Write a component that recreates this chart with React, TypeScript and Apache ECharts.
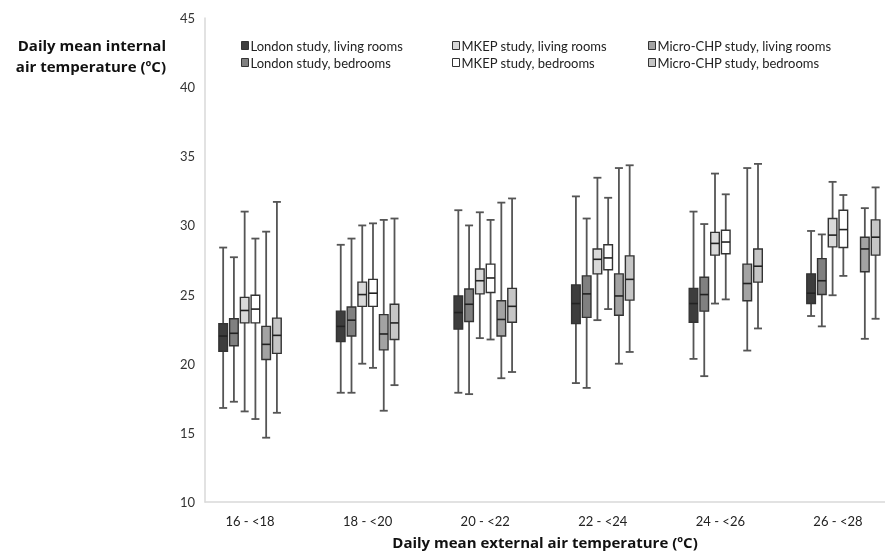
import React, { useEffect, useRef } from "react";
import * as echarts from "echarts";

const categories = ["16 - <18", "18 - <20", "20 - <22", "22 - <24", "24 - <26", "26 - <28"];
const seriesNames = [
  "London study, living rooms",
  "London study, bedrooms",
  "MKEP study, living rooms",
  "MKEP study, bedrooms",
  "Micro-CHP study, living rooms",
  "Micro-CHP study, bedrooms",
];
// [min, Q1, median, Q3, max] per category
const londonLiving = [
  [16.8, 20.9, 22.0, 22.9, 28.4],
  [17.9, 21.6, 22.7, 23.8, 28.6],
  [17.9, 22.5, 23.7, 24.9, 31.1],
  [18.6, 22.9, 24.35, 25.7, 32.1],
  [20.35, 23.0, 24.35, 25.45, 31.0],
  [23.45, 24.35, 25.1, 26.5, 29.6],
];
const londonBed = [
  [17.25, 21.3, 22.2, 23.25, 27.7],
  [17.9, 22.0, 23.15, 24.1, 29.05],
  [17.8, 23.05, 24.3, 25.4, 30.0],
  [18.25, 23.35, 25.05, 26.35, 30.5],
  [19.1, 23.8, 25.0, 26.25, 30.1],
  [22.7, 25.0, 26.0, 27.6, 29.35],
];
const mkepLiving = [
  [16.55, 22.95, 23.85, 24.8, 31.0],
  [20.0, 24.15, 25.0, 25.9, 30.0],
  [21.85, 25.05, 26.0, 26.85, 30.95],
  [23.15, 26.5, 27.55, 28.3, 33.45],
  [24.35, 27.85, 28.7, 29.5, 33.75],
  [24.95, 28.45, 29.3, 30.5, 33.15],
];
const mkepBed = [
  [16.0, 22.95, 23.95, 24.95, 29.05],
  [19.7, 24.15, 25.1, 26.1, 30.15],
  [21.75, 25.15, 26.2, 27.2, 30.4],
  [23.95, 26.8, 27.65, 28.6, 32.0],
  [24.65, 27.95, 28.8, 29.65, 32.25],
  [26.35, 28.4, 29.7, 31.1, 32.2],
];
const microLiving = [
  [14.65, 20.3, 21.4, 22.7, 29.55],
  [16.6, 21.0, 22.15, 23.55, 30.4],
  [18.95, 22.0, 23.2, 24.55, 31.65],
  [20.0, 23.5, 24.9, 26.5, 34.15],
  [20.95, 24.55, 25.8, 27.2, 34.15],
  [21.8, 26.65, 28.3, 29.15, 31.25],
];
const microBed = [
  [16.45, 20.75, 22.05, 23.3, 31.7],
  [18.45, 21.75, 22.95, 24.3, 30.5],
  [19.4, 23.0, 24.15, 25.45, 31.95],
  [20.85, 24.6, 26.1, 27.8, 34.35],
  [22.55, 25.9, 27.05, 28.3, 34.45],
  [23.25, 27.85, 29.15, 30.4, 32.75],
];
const yTicks = { min: 10, max: 45, interval: 5 };

const allSeries = [londonLiving, londonBed, mkepLiving, mkepBed, microLiving, microBed];
const fills = ["#3d3d3d", "#808080", "#d9d9d9", "#ffffff", "#a3a3a3", "#c6c6c6"];

const SPACING = 10.75;
const BOX_W = 8.6;
const CAP_W = 8;

export default function App() {
  const ref = useRef<HTMLDivElement>(null);
  useEffect(() => {
    if (!ref.current) return;
    const chart = echarts.init(ref.current, undefined, { renderer: "svg" });
    const series = allSeries.map((arr, s) => ({
      type: "custom",
      name: seriesNames[s],
      itemStyle: { color: fills[s], borderColor: "#333", borderWidth: 1 },
      encode: { x: 0, y: [1, 2, 3, 4, 5] },
      data: arr.map((v, g) => [g, ...v]),
      renderItem: (params: any, api: any) => {
        const g = api.value(0);
        const shift = s >= 4 && g >= 4 ? 1 : 0;
        const slot = s - 2.5 + shift;
        const base = api.coord([g, api.value(3)]);
        const x = base[0] + slot * SPACING;
        const yMin = api.coord([g, api.value(1)])[1];
        const yQ1 = api.coord([g, api.value(2)])[1];
        const yMed = api.coord([g, api.value(3)])[1];
        const yQ3 = api.coord([g, api.value(4)])[1];
        const yMax = api.coord([g, api.value(5)])[1];
        const wStyle = { stroke: "#555", lineWidth: 1.8 };
        return {
          type: "group",
          children: [
            { type: "line", shape: { x1: x, y1: yMin, x2: x, y2: yMax }, style: wStyle },
            { type: "line", shape: { x1: x - CAP_W / 2, y1: yMin, x2: x + CAP_W / 2, y2: yMin }, style: wStyle },
            { type: "line", shape: { x1: x - CAP_W / 2, y1: yMax, x2: x + CAP_W / 2, y2: yMax }, style: wStyle },
            {
              type: "rect",
              shape: { x: x - BOX_W / 2, y: yQ3, width: BOX_W, height: yQ1 - yQ3 },
              style: { fill: fills[s], stroke: "#333", lineWidth: 1.4 },
            },
            { type: "line", shape: { x1: x - BOX_W / 2, y1: yMed, x2: x + BOX_W / 2, y2: yMed }, style: { stroke: "#222", lineWidth: 1.6 } },
          ],
        };
      },
    }));
    const legendCommon = {
      orient: "vertical",
      icon: "rect",
      itemWidth: 7,
      itemHeight: 8,
      itemGap: 4,
      textStyle: { fontFamily: "Lato", fontSize: 13, color: "#222", padding: [0, 0, 0, -3] },
    };
    const legendItem = (i: number) => ({ name: seriesNames[i], itemStyle: { color: fills[i], borderColor: "#333", borderWidth: 1 } });
    chart.setOption({
      animation: false,
      textStyle: { fontFamily: "Lato" },
      grid: { left: 205, right: 0, top: 18, bottom: 55 },
      legend: [
        { ...legendCommon, left: 236, top: 34, data: [legendItem(0), legendItem(1)] },
        { ...legendCommon, left: 447, top: 34, data: [legendItem(2), legendItem(3)] },
        { ...legendCommon, left: 643, top: 34, data: [legendItem(4), legendItem(5)] },
      ],
      xAxis: {
        type: "value",
        min: -0.383,
        max: 5.4,
        splitNumber: 5,
        axisLine: { show: true, onZero: false, lineStyle: { color: "#d9d9d9", width: 1.5 } },
        axisTick: { show: false },
        splitLine: { show: false },
        axisLabel: {
          showMinLabel: false,
          showMaxLabel: false,
          fontSize: 13,
          color: "#222",
          margin: 12,
          formatter: (v: number) => {
            const r = Math.round(v);
            return Math.abs(v - r) < 1e-6 && r >= 0 && r < categories.length ? categories[r] : "";
          },
        },
        name: "Daily mean external air temperature (ºC)",
        nameLocation: "middle",
        nameGap: 32,
        nameTextStyle: { fontFamily: "Open Sans", fontWeight: "bold", fontSize: 15, color: "#111" },
      },
      yAxis: {
        type: "value",
        min: yTicks.min,
        max: yTicks.max,
        interval: yTicks.interval,
        axisLine: { show: true, onZero: false, lineStyle: { color: "#d9d9d9", width: 1.5 } },
        axisTick: { show: false },
        splitLine: { show: false },
        axisLabel: { fontSize: 13, color: "#333", margin: 10 },
      },
      graphic: [
        {
          type: "text",
          x: 166,
          y: 34,
          style: {
            text: "Daily mean internal\nair temperature (ºC)",
            align: "right",
            fontFamily: "Open Sans",
            fontWeight: "bold",
            fontSize: 15,
            lineHeight: 21,
            fill: "#111",
          },
        },
      ],
      series,
    });
    return () => chart.dispose();
  }, []);
  return <div ref={ref} style={{ position: "fixed", left: 0, top: 0, width: 885, height: 557 }} />;
}
